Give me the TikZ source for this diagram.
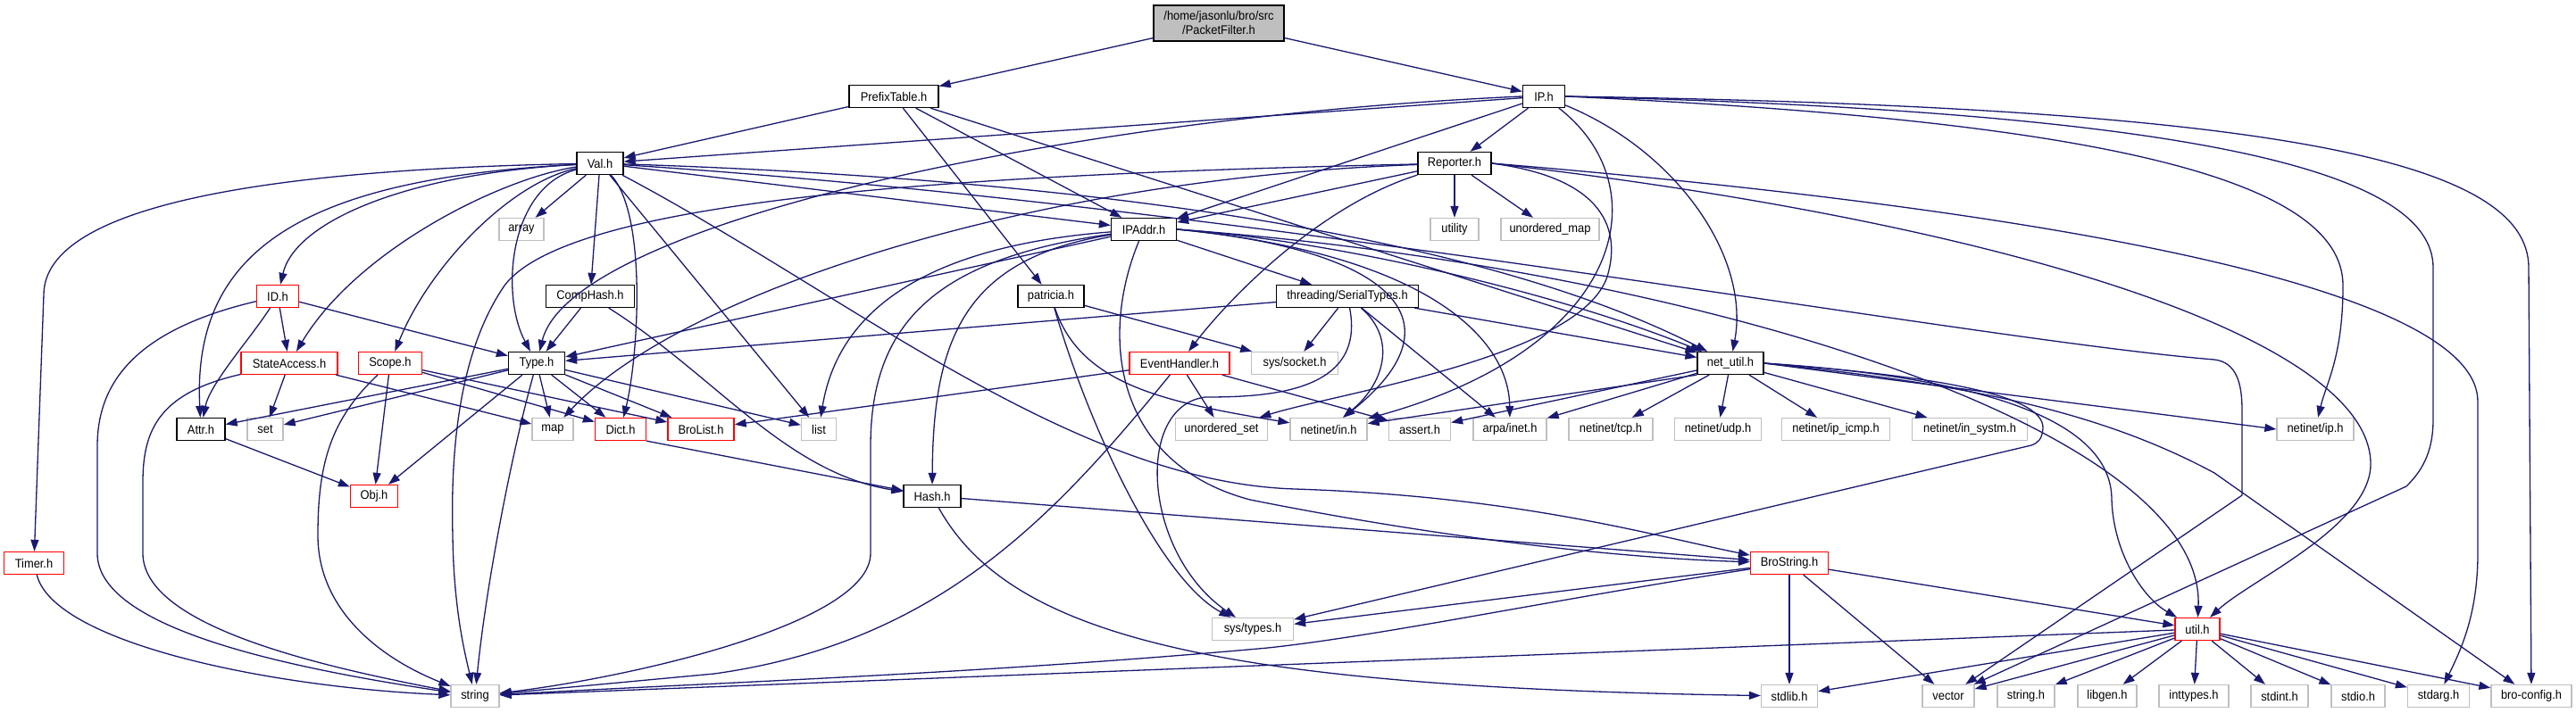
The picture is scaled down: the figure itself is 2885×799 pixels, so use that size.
\documentclass[tikz,border=0pt]{standalone}
\usepackage{fontspec}
\newfontfamily\dfont[FakeStretch=0.92]{Liberation Sans}
\usetikzlibrary{arrows.meta}
\definecolor{eb}{HTML}{191970}
\definecolor{gy}{HTML}{BFBFBF}
\begin{document}
\begin{tikzpicture}[x=1pt,y=-1pt,
  nd/.style={draw=black,fill=white,line width=1.3pt,minimum height=25pt,inner sep=0pt,font={\dfont\fontsize{14pt}{16pt}\selectfont}},
  rd/.style={nd,draw=red},
  gn/.style={nd,draw=gy},
  e/.style={draw=eb,line width=1.3pt,-{Triangle[length=13pt,width=9pt]}}]
\useasboundingbox (0,0) rectangle (2885,799);
% nodes
\node[nd,fill=gy,minimum width=146pt,minimum height=40pt,align=center] (pf) at (1365,26) {/home/jasonlu/bro/src\\/PacketFilter.h};
\node[nd,minimum width=100pt] (pt) at (1001,108) {PrefixTable.h};
\node[nd,minimum width=47pt] (ip) at (1729,108) {IP.h};
\node[nd,minimum width=52pt] (val) at (672,183) {Val.h};
\node[nd,minimum width=82pt] (rep) at (1629,183) {Reporter.h};
\node[gn,minimum width=50pt] (array) at (584,257) {array};
\node[nd,minimum width=73pt] (ipaddr) at (1281,257) {IPAddr.h};
\node[gn,minimum width=54pt] (utility) at (1629,257) {utility};
\node[gn,minimum width=110pt] (umap) at (1736,257) {unordered\_map};
\node[rd,minimum width=47pt] (id) at (311,332) {ID.h};
\node[nd,minimum width=99pt] (comphash) at (661,332) {CompHash.h};
\node[nd,minimum width=74pt] (patricia) at (1177,332) {patricia.h};
\node[nd,minimum width=159pt] (serial) at (1509,332) {threading/SerialTypes.h};
\node[rd,minimum width=108pt] (sa) at (324,407) {StateAccess.h};
\node[rd,minimum width=71pt] (scope) at (437,407) {Scope.h};
\node[nd,minimum width=63pt] (type) at (601,407) {Type.h};
\node[rd,minimum width=112pt] (eh) at (1321,407) {EventHandler.h};
\node[gn,minimum width=97pt] (socket) at (1450,407) {sys/socket.h};
\node[nd,minimum width=74pt] (netutil) at (1938,407) {net\_util.h};
\node[nd,minimum width=54pt] (attr) at (225,481) {Attr.h};
\node[gn,minimum width=40pt] (set) at (297,481) {set};
\node[gn,minimum width=46pt] (map) at (619,481) {map};
\node[rd,minimum width=57pt] (dict) at (695,481) {Dict.h};
\node[rd,minimum width=74pt] (brolist) at (785,481) {BroList.h};
\node[gn,minimum width=39pt] (list) at (917,481) {list};
\node[gn,minimum width=103pt] (uset) at (1368,481) {unordered\_set};
\node[gn,minimum width=86pt] (inh) at (1488,481) {netinet/in.h};
\node[gn,minimum width=69pt] (assert) at (1590,481) {assert.h};
\node[gn,minimum width=82pt] (inet) at (1691,481) {arpa/inet.h};
\node[gn,minimum width=94pt] (tcp) at (1804,481) {netinet/tcp.h};
\node[gn,minimum width=97pt] (udp) at (1924,481) {netinet/udp.h};
\node[gn,minimum width=121pt] (icmp) at (2056,481) {netinet/ip\_icmp.h};
\node[gn,minimum width=129pt] (systm) at (2206,481) {netinet/in\_systm.h};
\node[gn,minimum width=86pt] (iph) at (2593,481) {netinet/ip.h};
\node[rd,minimum width=53pt] (obj) at (419,556) {Obj.h};
\node[nd,minimum width=64pt] (hash) at (1044,556) {Hash.h};
\node[rd,minimum width=67pt] (timer) at (38,631) {Timer.h};
\node[rd,minimum width=87pt] (brostring) at (2004,631) {BroString.h};
\node[gn,minimum width=91pt] (types) at (1403,705) {sys/types.h};
\node[rd,minimum width=50pt] (util) at (2461,705) {util.h};
\node[gn,minimum width=54pt] (string) at (532,780) {string};
\node[gn,minimum width=63pt] (stdlib) at (2004,780) {stdlib.h};
\node[gn,minimum width=58pt] (vector) at (2182,780) {vector};
\node[gn,minimum width=64pt] (stringh) at (2269,780) {string.h};
\node[gn,minimum width=66pt] (libgen) at (2360,780) {libgen.h};
\node[gn,minimum width=78pt] (inttypes) at (2457,780) {inttypes.h};
\node[gn,minimum width=64pt] (stdint) at (2553,780) {stdint.h};
\node[gn,minimum width=60pt] (stdio) at (2641,780) {stdio.h};
\node[gn,minimum width=69pt] (stdarg) at (2731,780) {stdarg.h};
\node[gn,minimum width=90pt] (broconfig) at (2835,780) {bro-config.h};
% PacketFilter, PrefixTable
\draw[e] (pf) -- (pt);
\draw[e] (pf) -- (ip);
\draw[e] (pt) -- (val);
\draw[e] (pt) -- (ipaddr);
\draw[e] (pt) -- (patricia);
\draw[e] (pt) -- (netutil);
% IP.h
\draw[e] (ip) -- (val);
\draw[e] (ip.west) .. controls (1200,130) and (640,250) .. (type);
\draw[e] (ip) -- (rep);
\draw[e] (ip) -- (ipaddr);
\draw[e] (ip) .. controls (1880,170) and (1960,290) .. (netutil);
\draw[e] (ip) .. controls (1860,210) and (1820,390) .. (inh);
\draw[e] (ip.east) .. controls (2350,135) and (2624,200) .. (2624,320) .. controls (2624,400) and (2605,430) .. (iph);
\draw[e] (ip.east) .. controls (2450,125) and (2725,190) .. (2725,300) -- (2725,470) .. controls (2725,510) and (2710,530) .. (2695,545) -- (vector);
\draw[e] (ip.east) .. controls (2550,120) and (2832,180) .. (2832,300) -- (broconfig);
% Reporter.h
\draw[e] (rep) -- (utility);
\draw[e] (rep) -- (umap);
\draw[e] (rep) -- (ipaddr);
\draw[e] (rep) .. controls (1480,230) and (1380,330) .. (eh);
\draw[e] (rep) .. controls (1150,200) and (760,330) .. (map);
\draw[e] (rep) .. controls (1100,195) and (640,220) .. (565,320) .. controls (510,400) and (505,520) .. (507,600) .. controls (508,680) and (520,730) .. (string);
\draw[e] (rep.east) .. controls (1800,200) and (1815,260) .. (1800,310) .. controls (1770,400) and (1500,440) .. (uset);
\draw[e] (rep.east) .. controls (2250,250) and (2655,380) .. (2655,520) .. controls (2655,590) and (2520,650) .. (util);
\draw[e] (rep.east) .. controls (2350,240) and (2775,330) .. (2775,450) -- (2775,620) .. controls (2775,690) and (2755,730) .. (stdarg);
% Val.h
\draw[e] (val) .. controls (300,190) and (50,230) .. (49,330) -- (timer);
\draw[e] (val) .. controls (450,195) and (330,250) .. (id);
\draw[e] (val) .. controls (340,200) and (215,280) .. (attr);
\draw[e] (val) .. controls (560,200) and (400,280) .. (sa);
\draw[e] (val) .. controls (570,205) and (480,300) .. (scope);
\draw[e] (val) .. controls (570,210) and (560,330) .. (type);
\draw[e] (val) -- (array);
\draw[e] (val) -- (comphash);
\draw[e] (val) .. controls (725,240) and (715,400) .. (dict);
\draw[e] (val) -- (list);
\draw[e] (val) -- (ipaddr);
\draw[e] (val) .. controls (1200,200) and (1650,260) .. (netutil);
\draw[e] (val) .. controls (950,330) and (1200,540) .. (1450,548) .. controls (1700,556) and (1850,600) .. (brostring);
\draw[e] (val) .. controls (1400,230) and (2200,380) .. (2480,403) .. controls (2505,406) and (2511,430) .. (2511,460) -- (2511,555) -- (vector);
% IPAddr.h
\draw[e] (ipaddr) -- (type);
\draw[e] (ipaddr) -- (serial);
\draw[e] (ipaddr) .. controls (1080,290) and (1045,380) .. (hash);
\draw[e] (ipaddr) .. controls (1050,290) and (975,360) .. (975,500) -- (975,620) .. controls (975,700) and (700,760) .. (string);
\draw[e] (ipaddr) .. controls (1050,275) and (940,340) .. (list);
\draw[e] (ipaddr) .. controls (1230,380) and (1250,520) .. (1400,560) .. controls (1600,600) and (1800,625) .. (brostring);
\draw[e] (ipaddr.east) .. controls (1560,280) and (1640,360) .. (inh);
\draw[e] (ipaddr.east) .. controls (1600,285) and (1690,380) .. (inet);
\draw[e] (ipaddr.east) .. controls (1500,270) and (1750,330) .. (netutil);
\draw[e] (ipaddr.east) .. controls (1900,300) and (2470,480) .. (util);
% threading/SerialTypes.h
\draw[e] (serial) -- (type);
\draw[e] (serial) -- (socket);
\draw[e] (serial) .. controls (1565,380) and (1550,430) .. (inh);
\draw[e] (serial) -- (inet);
\draw[e] (serial) -- (netutil);
\draw[e] (serial) .. controls (1530,440) and (1420,445) .. (1350,445) .. controls (1270,455) and (1280,620) .. (types);
% patricia.h
\draw[e] (patricia) -- (socket);
\draw[e] (patricia) .. controls (1220,480) and (1300,650) .. (types);
\draw[e] (patricia) .. controls (1210,430) and (1300,450) .. (inh);
% EventHandler.h
\draw[e] (eh) -- (brolist);
\draw[e] (eh) .. controls (1180,580) and (1050,720) .. (800,755) -- (string);
\draw[e] (eh) -- (uset);
\draw[e] (eh) -- (assert);
% net_util.h
\draw[e] (netutil.south west) -- (inh);
\draw[e] (netutil) -- (assert);
\draw[e] (netutil) -- (inet);
\draw[e] (netutil) -- (tcp);
\draw[e] (netutil) -- (udp);
\draw[e] (netutil) -- (icmp);
\draw[e] (netutil) -- (systm);
\draw[e] (netutil.east) .. controls (2150,430) and (2350,455) .. (iph.west);
\draw[e] (netutil.east) .. controls (2150,420) and (2290,440) .. (2288,480) .. controls (2287,492) and (2283,496) .. (2275,499) -- (types);
\draw[e] (netutil.east) .. controls (2250,425) and (2365,480) .. (2365,560) .. controls (2367,620) and (2400,670) .. (util);
\draw[e] (netutil.east) .. controls (2200,430) and (2350,460) .. (2480,530) -- (broconfig);
% Type.h
\draw[e] (type) -- (attr);
\draw[e] (type) -- (set);
\draw[e] (type) -- (map);
\draw[e] (type) -- (dict);
\draw[e] (type) -- (brolist);
\draw[e] (type) -- (list);
\draw[e] (type) -- (obj);
\draw[e] (type) .. controls (575,500) and (545,650) .. (string);
% ID.h, StateAccess.h, Scope.h
\draw[e] (id) -- (type);
\draw[e] (id) -- (sa);
\draw[e] (id) .. controls (280,380) and (235,430) .. (attr);
\draw[e] (id) .. controls (150,370) and (109,430) .. (109,500) -- (109,620) .. controls (109,700) and (300,745) .. (string);
\draw[e] (sa) -- (set);
\draw[e] (sa) -- (map);
\draw[e] (sa) .. controls (180,440) and (160,480) .. (160,540) -- (160,620) .. controls (160,700) and (350,745) .. (string);
\draw[e] (scope) -- (obj);
\draw[e] (scope) .. controls (370,470) and (356,520) .. (356,600) .. controls (356,680) and (420,735) .. (string);
\draw[e] (scope) -- (dict);
\draw[e] (scope) -- (brolist);
% others
\draw[e] (attr) -- (obj);
\draw[e] (timer) .. controls (60,720) and (300,770) .. (string);
\draw[e] (comphash) -- (type);
\draw[e] (comphash) .. controls (800,420) and (880,530) .. (hash);
\draw[e] (dict.south east) -- (hash);
\draw[e] (hash) -- (brostring);
\draw[e] (hash) .. controls (1130,710) and (1350,770) .. (stdlib);
% BroString.h
\draw[e] (brostring) -- (types);
\draw[e] (brostring) .. controls (1750,670) and (1550,712) .. (1420,726) .. controls (1100,755) and (800,765) .. (string);
\draw[e] (brostring) -- (stdlib);
\draw[e] (brostring) -- (vector);
\draw[e] (brostring) -- (util);
% util.h
\draw[e] (util) -- (string);
\draw[e] (util) -- (stdlib);
\draw[e] (util) -- (vector);
\draw[e] (util) -- (stringh);
\draw[e] (util) -- (libgen);
\draw[e] (util) -- (inttypes);
\draw[e] (util) -- (stdint);
\draw[e] (util) -- (stdio);
\draw[e] (util) -- (stdarg);
\draw[e] (util) -- (broconfig);
\end{tikzpicture}
\end{document}
